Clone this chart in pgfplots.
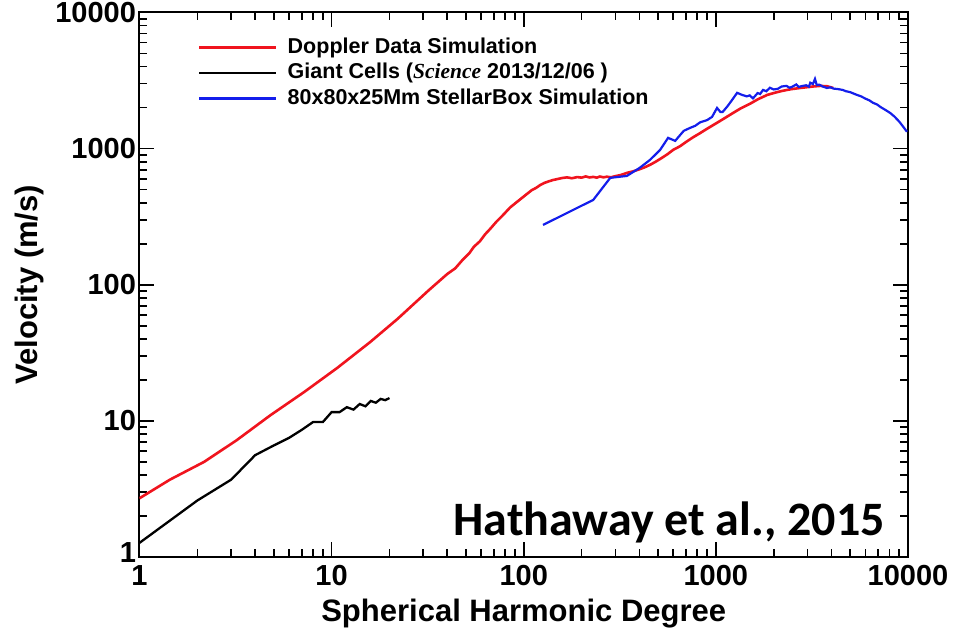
\documentclass[border=0pt]{standalone}
\usepackage{pgfplots}
\pgfplotsset{compat=1.18}
\usepackage{fontspec}
\setmainfont{Liberation Sans}
\newfontfamily\serifit{Liberation Serif}
\newfontfamily\carlito{Carlito}
\definecolor{myred}{RGB}{240,20,30}
\definecolor{myblue}{RGB}{20,30,235}
\begin{document}
\begin{tikzpicture}
\begin{axis}[
  xmode=log, ymode=log,
  scale only axis, width=768.5pt, height=544.5pt,
  xmin=1, xmax=10000, ymin=1, ymax=10000,
  xtick={1,10,100,1000,10000}, xticklabels={1,10,100,1000,10000},
  ytick={1,10,100,1000,10000}, yticklabels={\raisebox{9pt}{1},10,100,1000,\raisebox{-5pt}{10000}},
  minor xtick={2,3,...,9,20,30,...,90,200,300,...,900,2000,3000,...,9000},
  minor ytick={2,3,...,9,20,30,...,90,200,300,...,900,2000,3000,...,9000},
  tick align=inside,
  major tick length=15pt, minor tick length=8pt,
  every tick/.style={black, line width=1.6pt},
  axis line style={line width=2pt},
  /pgf/number format/assume math mode=true,
  tick label style={font=\bfseries\fontsize{29}{32}\selectfont},
  xticklabel style={yshift=-5pt},
  xlabel={Spherical Harmonic Degree},
  ylabel={Velocity (m/s)},
  label style={font=\bfseries\fontsize{31}{34}\selectfont},
  xlabel style={at={(axis description cs:0.5,-0.103)}, anchor=center},
  ylabel style={at={(axis description cs:-0.143,0.5)}, anchor=center},
  legend style={draw=none, fill=none, at={(rel axis cs:0.076,0.957)}, anchor=north west,
    font=\bfseries\fontsize{21.5}{24}\selectfont, row sep=3pt, inner sep=0pt,
    nodes={inner sep=1pt, text height=16pt, text depth=4.5pt},
    /tikz/every odd column/.append style={column sep=9pt}},
  legend cell align=left,
  legend image code/.code={\draw[#1, line width=2.6pt] (0pt,0pt) -- (77pt,0pt);},
  clip=true,
]
\addplot[myred, line width=2.6pt] coordinates {
(1,2.7) (1.44,3.7) (2.17,5.0) (3.2,7.2) (4.8,11.0) (7.2,16.3) (10.7,24.5) (15.9,38)
(22,56) (32,91) (40,120) (44,132) (48,152) (52,170) (55,190) (59,208) (63,235) (67,258) (72,290)
(78,325) (85,370) (92,405) (99,440) (105,470) (110,495) (116,515) (122,541) (128,560) (135,575)
(142,588) (150,598) (158,608) (168,615) (178,606) (190,618) (200,612) (210,625) (220,614) (230,620)
(240,612) (249,624) (260,615) (270,622) (285,616) (300,628) (320,640) (344,663) (370,680) (400,705)
(425,728) (454,760) (485,800) (520,850) (560,910) (600,980) (650,1040) (700,1120) (760,1210) (828,1300)
(900,1400) (1000,1530) (1100,1660) (1230,1830) (1350,1980) (1500,2130) (1650,2300) (1850,2480)
(2000,2560) (2200,2650) (2450,2730) (2750,2790) (3000,2830) (3200,2860) (3500,2890) (3800,2870) (4080,2790)
};
\addlegendentry{Doppler Data Simulation}
\addplot[black, line width=2.3pt] coordinates {
(1,1.27) (2,2.6) (3,3.7) (4,5.6) (5,6.6) (6,7.5) (7,8.6) (8,9.8) (9,9.8) (10,11.6)
(11,11.6) (12,12.6) (13,12.1) (14,13.3) (15,12.8) (16,14.0) (17,13.6) (18,14.5) (19,14.2) (20,14.7)
};
\addlegendentry{Giant Cells ({\serifit\itshape\bfseries Science} 2013/12/06 )}
\addplot[myblue, line width=2.2pt] coordinates {
(126,275) (230,420) (282,610) (344,630) (400,720) (454,826) (513,980) (564,1200) (614,1140)
(680,1350) (734,1420) (780,1470) (828,1560) (900,1620) (955,1710) (1014,1990) (1055,1860) (1085,1860)
(1150,2050) (1215,2280) (1290,2570) (1370,2480) (1450,2420) (1500,2460) (1560,2340) (1650,2560)
(1700,2520) (1760,2700) (1830,2640) (1910,2800) (2000,2720) (2100,2750) (2200,2860) (2330,2890)
(2420,2800) (2500,2850) (2620,2960) (2700,2840) (2800,2880) (2950,2920) (3050,2850) (3100,3050)
(3200,2980) (3280,3250) (3350,2930) (3450,2950) (3600,2860) (3780,2790) (3950,2820) (4100,2760)
(4300,2740) (4570,2700) (4750,2640) (5000,2600) (5200,2540) (5430,2480) (5700,2420) (6000,2330)
(6300,2260) (6580,2170) (6900,2110) (7200,2020) (7600,1930) (8070,1830) (8500,1720) (9000,1580)
(9400,1460) (9880,1330)
};
\addlegendentry{80x80x25Mm StellarBox Simulation}
\node[anchor=base east, inner sep=0pt, font=\carlito\bfseries\fontsize{48}{50}\selectfont]
  at (rel axis cs:0.970,0.0386) {Hathaway et al., 2015};
\end{axis}
\pgfresetboundingbox
\path[use as bounding box] ([shift={(-139.5pt,-79pt)}]current axis.south west) rectangle ([shift={(45pt,12.5pt)}]current axis.north east);
\end{tikzpicture}
\end{document}
